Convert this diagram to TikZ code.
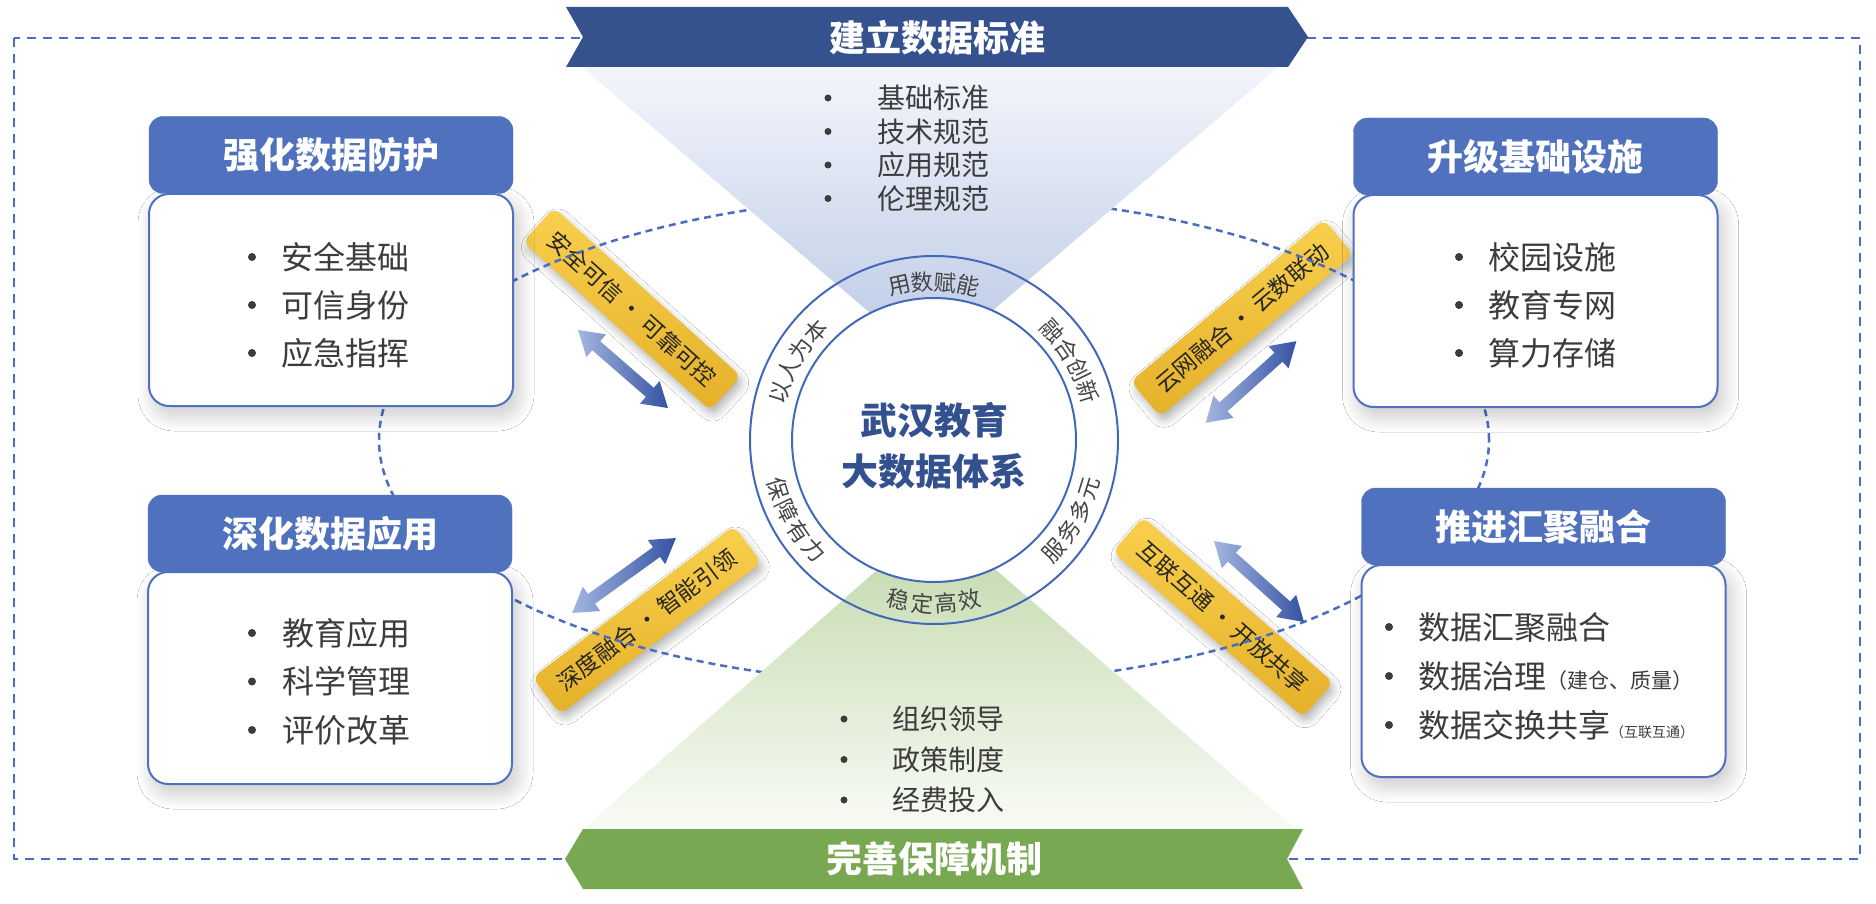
\documentclass[tikz,border=0pt]{standalone}
\usepackage{fontspec}
\setmainfont{Noto Sans CJK SC}
\usetikzlibrary{calc,shadows.blur}
\definecolor{bannerblue}{HTML}{35528E}
\definecolor{bannergreen}{HTML}{78A851}
\definecolor{headblue}{HTML}{4F71BE}
\definecolor{lineblue}{HTML}{4A6DC2}
\definecolor{ringblue}{HTML}{4468B8}
\definecolor{centerblue}{HTML}{33508F}
\definecolor{textgray}{HTML}{3C3C3C}
\definecolor{ringgray}{HTML}{454545}
\definecolor{tritop}{HTML}{F3F5FB}
\definecolor{tribot}{HTML}{B9C8E5}
\definecolor{grtop}{HTML}{BFD7A8}
\definecolor{grbot}{HTML}{F9FBF6}
\definecolor{ribtop}{HTML}{F8CF4D}
\definecolor{ribbot}{HTML}{E5B12A}
\definecolor{ribtext}{HTML}{262626}
\definecolor{arrdark}{HTML}{3553A3}
\definecolor{arrlight}{HTML}{A3B6E0}
\pgfdeclareradialshading{ringshade}{\pgfpoint{0bp}{0bp}}{color(0bp)=(white); color(38bp)=(white); color(38.6bp)=(gray!38); color(42bp)=(gray!18); color(50bp)=(gray!7)}
\newcommand{\itemlist}[7]{%
  \foreach \txt [count=\i] in {#7} {%
    \node[#6dot] (#1d\i) at (#2,{-(#4+(\i-1)*#5)}) {};
    \node[#6] (#1t\i) at (#3,{-(#4+(\i-1)*#5)}) {\txt};
  }}
\newcommand{\dblarrow}[5]{%
  \coordinate (#1) at (#2,#3);
  \begin{scope}[shift={(#1)}, rotate=#4]
    \shade[left color=arrlight, right color=arrdark]
      ({-#5/2},0) -- ({-#5/2+24},15) -- ({-#5/2+24},6) -- ({#5/2-24},6) -- ({#5/2-24},15)
      -- ({#5/2},0) -- ({#5/2-24},-15) -- ({#5/2-24},-6) -- ({-#5/2+24},-6) -- ({-#5/2+24},-15) -- cycle;
  \end{scope}}
\newcommand{\ringword}[5]{%
  \foreach \ch [count=\i] in {#5} {%
    \pgfmathsetmacro\ang{#2 - #3*(\i-2.5)*8.4}
    \pgfmathsetmacro\rot{\ang - #3*90}
    \node[ringtxt, rotate=\rot] (#1\i) at ($(ring)+(\ang:#4)$) {\ch};
  }}
\begin{document}
\begin{tikzpicture}[x=1pt,y=1pt,
  frame/.style={draw=lineblue, line width=2.5pt, dash pattern=on 9pt off 7pt},
  orbit/.style={draw=lineblue, line width=2.5pt, dash pattern=on 7pt off 5pt},
  headbox/.style={fill=headblue, draw=headblue, rounded corners=14pt, minimum width=364pt, minimum height=77pt, text=white, font=\bfseries\fontsize{36}{40}\selectfont, inner sep=0pt},
  bodybox/.style={fill=white, draw=headblue, line width=2pt, rounded corners=20pt, minimum width=364pt, minimum height=212pt, inner sep=0pt,
    blur shadow={shadow xshift=5pt, shadow yshift=-9pt, shadow blur radius=16pt, shadow blur steps=14, shadow opacity=22}},
  ribbon/.style={rounded corners=8pt, minimum width=252pt, minimum height=46pt, top color=ribtop, bottom color=ribbot, text=ribtext,
    font=\fontsize{23}{26}\selectfont, inner sep=0pt,
    blur shadow={shadow xshift=3pt, shadow yshift=-6pt, shadow blur radius=8pt, shadow blur steps=8, shadow opacity=30}},
  itemdot/.style={circle, fill=textgray, inner sep=0pt, minimum size=8pt},
  item/.style={anchor=west, inner sep=0pt, text=textgray, font=\fontsize{32}{36}\selectfont},
  titemdot/.style={circle, fill=textgray, inner sep=0pt, minimum size=7pt},
  titem/.style={anchor=west, inner sep=0pt, text=textgray, font=\fontsize{28}{32}\selectfont},
  ringtxt/.style={text=ringgray, font=\fontsize{22.5}{25}\selectfont, inner sep=0pt},
  bannertitle/.style={text=white, font=\bfseries\fontsize{36}{40}\selectfont, inner sep=0pt},
  coretext/.style={align=center, text=centerblue, font=\bfseries\fontsize{37}{51}\selectfont, inner sep=0pt}
]
\useasboundingbox (0,0) rectangle (1876,-904);
\fill[white] (0,0) rectangle (1876,-904);

% outer dashed frame
\draw[frame] (14,-38) rectangle (1860,-859);

% ribbons
\node[ribbon, rotate=-42] (rtl) at (632,-309) {安全可信 · 可靠可控};
\node[ribbon, rotate=40] (rtr) at (1242,-318) {云网融合 · 云数联动};
\node[ribbon, rotate=37] (rbl) at (647,-620) {深度融合 · 智能引领};
\node[ribbon, rotate=-41] (rbr) at (1223,-617) {互联互通 · 开放共享};

% dashed orbit
\coordinate (ring) at (934,-440);
\draw[orbit] (ring) ellipse [x radius=555, y radius=244];

% ring fill
\shade[shading=ringshade] (ring) circle[radius=184];

% triangles
\shade[top color=tritop, bottom color=tribot] (582,-67) -- (1278,-67) -- (930,-364) -- cycle;
\shade[top color=grtop, bottom color=grbot] (936,-518) -- (1295,-829) -- (583,-829) -- cycle;

% inner circle and ring outline
\node[circle, fill=white, draw=ringblue, line width=2pt, minimum size=284pt, inner sep=0pt] (inner) at (ring) {};
\draw[ringblue, line width=2pt] (ring) circle[radius=184];

% ring words
\ringword{wa}{90}{1}{158}{用,数,赋,能}
\ringword{wb}{30}{1}{161}{融,合,创,新}
\ringword{wc}{150}{1}{161}{以,人,为,本}
\ringword{wd}{-90}{-1}{164}{稳,定,高,效}
\ringword{we}{-30}{-1}{163}{服,务,多,元}
\ringword{wf}{-150}{-1}{163}{保,障,有,力}

\node[coretext] (core) at (934,-446) {武汉教育\\大数据体系};

% side boxes
\node[bodybox] (tlbody) at (331,-300) {};
\node[headbox] (tlhead) at (331,-155) {强化数据防护};
\node[bodybox] (trbody) at (1535.5,-301) {};
\node[headbox] (trhead) at (1535.5,-156.5) {升级基础设施};
\node[bodybox] (blbody) at (330,-678) {};
\node[headbox] (blhead) at (330,-533.5) {深化数据应用};
\node[bodybox] (brbody) at (1543.5,-671) {};
\node[headbox] (brhead) at (1543.5,-526.5) {推进汇聚融合};

\itemlist{tl}{252}{281}{257}{48}{item}{安全基础,可信身份,应急指挥}
\itemlist{tr}{1459}{1488}{257}{48}{item}{校园设施,教育专网,算力存储}
\itemlist{bl}{252}{282}{633}{48.5}{item}{教育应用,科学管理,评价改革}
\itemlist{br}{1389}{1418}{627}{49}{item}{数据汇聚融合,数据治理{\fontsize{21}{24}\selectfont（建仓、质量）},数据交换共享{\fontsize{14}{16}\selectfont（互联互通）}}

% double arrows (dark end toward centre)
\dblarrow{atl}{623}{-369}{-41}{119}
\dblarrow{atr}{1251}{-382}{222}{122}
\dblarrow{abl}{624}{-575.5}{35.8}{128}
\dblarrow{abr}{1259}{-581.5}{138}{121}

% banners
\fill[bannerblue] (566,-7) -- (1288,-7) -- (1308,-37) -- (1288,-67) -- (566,-67) -- (583,-37) -- cycle;
\node[bannertitle] (topt) at (937,-38) {建立数据标准};
\fill[bannergreen] (583,-829) -- (1303,-829) -- (1287,-859) -- (1303,-889) -- (583,-889) -- (565,-859) -- cycle;
\node[bannertitle] (bott) at (934,-859) {完善保障机制};

% triangle items
\itemlist{ts}{828}{877}{98}{33.5}{titem}{基础标准,技术规范,应用规范,伦理规范}
\itemlist{bs}{844}{892}{719}{40.5}{titem}{组织领导,政策制度,经费投入}
\end{tikzpicture}
\end{document}
